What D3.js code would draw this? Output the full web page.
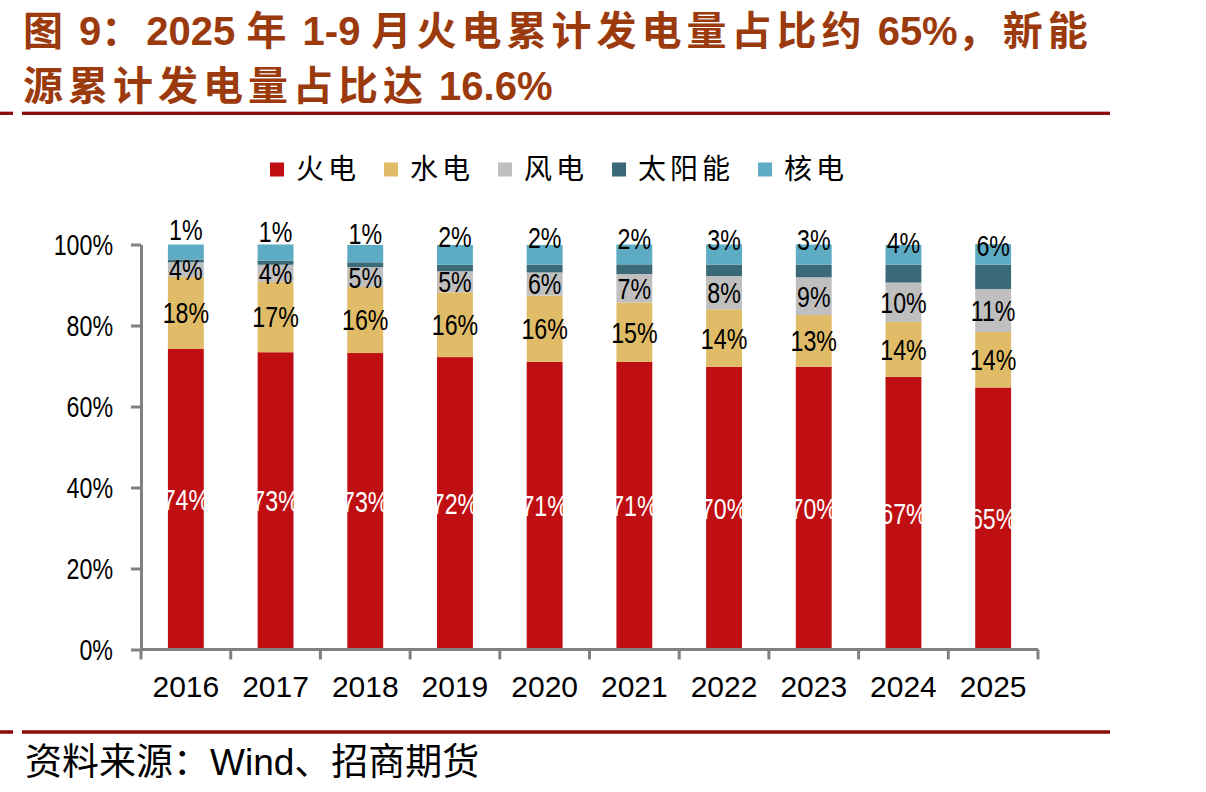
<!DOCTYPE html>
<html>
<head>
<meta charset="utf-8">
<script src="https://cdn.jsdelivr.net/npm/d3@7"></script>
<style>
  body { margin: 0; background: #fff; }
  text { font-family: "Liberation Sans", Arial, "Noto Sans CJK SC", sans-serif; }
</style>
</head>
<body>
<div id="chart"></div>
<script>
// data (share of generation, %)
const years = ['2016', '2017', '2018', '2019', '2020', '2021', '2022', '2023', '2024', '2025'];
const seriesNames = ['火电', '水电', '风电', '太阳能', '核电'];
const thermal = [74.2, 73.4, 73.2, 72.2, 71.0, 71.0, 69.8, 69.8, 67.3, 64.7];
const hydro   = [17.8, 17.4, 16.3, 16.0, 16.4, 14.7, 14.2, 12.8, 13.6, 13.7];
const wind    = [3.6, 4.2, 4.9, 5.2, 5.7, 7.0, 8.2, 9.3, 9.7, 10.6];
const solar   = [0.7, 1.0, 1.2, 1.6, 1.9, 2.4, 2.8, 3.1, 4.4, 6.0];
const nuclear = [3.7, 4.0, 4.3, 4.9, 4.9, 4.9, 5.0, 5.0, 4.9, 5.1];
const yTicks = [0, 20, 40, 60, 80, 100];
const titleLines = ['图 9：2025 年 1-9 月火电累计发电量占比约 65%，新能', '源累计发电量占比达 16.6%'];
const sourceText = '资料来源：Wind、招商期货';

const colors = ['#C00F12', '#E0BC69', '#BFBFBF', '#3B6978', '#5EABC4'];
const lineRed = '#8B0A0A';
const axisGrey = '#808080';

const svg = d3.select('#chart').append('svg')
  .attr('width', 1206)
  .attr('height', 792);

// title, CJK runs get extra letter spacing
const cjkRe = /[\u3000-\u9fff\uff00-\uffef]+|[^\u3000-\u9fff\uff00-\uffef]+/g;
titleLines.forEach((line, i) => {
  const t = svg.append('text')
    .attr('x', 23)
    .attr('y', 45 + i * 55)
    .attr('fill', '#9B3A0D')
    .attr('font-size', 40)
    .attr('font-weight', 'bold');
  line.match(cjkRe).forEach(run => {
    const isCjk = /[\u3000-\u9fff\uff00-\uffef]/.test(run);
    t.append('tspan')
      .attr('letter-spacing', isCjk ? 5 : 0)
      .style('font-family', isCjk ? '"Noto Sans CJK SC", sans-serif' : '"Liberation Sans", Arial, sans-serif')
      .text(run);
  });
});

// red rule lines
function rule(yPos, h) {
  svg.append('rect').attr('x', 0).attr('y', yPos - h / 2).attr('width', 13).attr('height', h).attr('fill', lineRed);
  svg.append('rect').attr('x', 22).attr('y', yPos - h / 2).attr('width', 1088).attr('height', h).attr('fill', lineRed);
}
rule(113.3, 3.3);
rule(732, 3.5);

// source
svg.append('text')
  .attr('x', 25)
  .attr('y', 775)
  .attr('font-size', 37)
  .attr('fill', '#000')
  .style('font-family', '"Liberation Sans", Arial, "Noto Sans CJK SC", sans-serif')
  .text(sourceText);

// scales
const x = d3.scaleBand()
  .domain(years)
  .range([141, 1038])
  .paddingInner(0.6)
  .paddingOuter(0.3);

const y = d3.scaleLinear()
  .domain([0, 100])
  .range([649.5, 244.5]);

const rows = years.map((yr, i) => ({
  year: yr,
  '火电': thermal[i],
  '水电': hydro[i],
  '风电': wind[i],
  '太阳能': solar[i],
  '核电': nuclear[i]
}));

const stacked = d3.stack().keys(seriesNames)(rows);

// bars
const layers = svg.append('g').selectAll('g')
  .data(stacked)
  .join('g')
  .attr('fill', (d, i) => colors[i]);

layers.selectAll('rect')
  .data(d => d)
  .join('rect')
  .attr('x', d => x(d.data.year))
  .attr('y', d => y(d[1]))
  .attr('width', x.bandwidth())
  .attr('height', d => y(d[0]) - y(d[1]));

// segment labels (thermal, hydro, wind inside; solar above bar)
const labelScale = 0.8;
stacked.forEach((layer, li) => {
  if (li > 3) return;
  svg.append('g').selectAll('text')
    .data(layer)
    .join('text')
    .attr('transform', d => {
      const cx = x(d.data.year) + x.bandwidth() / 2;
      let cy = (y(d[0]) + y(d[1])) / 2;
      if (li === 3) cy -= 31;
      return `translate(${cx},${cy}) scale(${labelScale},1)`;
    })
    .attr('text-anchor', 'middle')
    .attr('dy', '0.36em')
    .attr('font-size', 29)
    .attr('fill', li === 0 ? '#fff' : '#000')
    .text(d => Math.round(d[1] - d[0]) + '%');
});

// y axis
const yAxis = svg.append('g')
  .attr('transform', 'translate(141,0)')
  .call(d3.axisLeft(y).tickValues(yTicks).tickSize(10).tickSizeOuter(0).tickFormat(d => d + '%'));
yAxis.select('.domain').attr('stroke', axisGrey).attr('stroke-width', 3);
yAxis.selectAll('.tick line').attr('stroke', axisGrey).attr('stroke-width', 3);
yAxis.selectAll('.tick text')
  .attr('x', -28 / labelScale)
  .attr('transform', `scale(${labelScale},1)`)
  .attr('dy', '0.36em')
  .attr('font-size', 29)
  .attr('fill', '#000')
  .style('font-family', '"Liberation Sans", Arial, sans-serif');

// x axis: line with ticks at category boundaries
const step = x.step();
const xAxis = svg.append('g');
xAxis.append('line')
  .attr('x1', 141).attr('x2', 1038)
  .attr('y1', y(0)).attr('y2', y(0))
  .attr('stroke', axisGrey).attr('stroke-width', 3);
const bounds = years.map(d => x(d) - x.paddingInner() * step / 2)
  .concat([x(years[years.length - 1]) + x.bandwidth() + x.paddingOuter() * step]);
xAxis.selectAll('.xtick')
  .data(bounds)
  .join('line')
  .attr('class', 'xtick')
  .attr('x1', d => d).attr('x2', d => d)
  .attr('y1', y(0)).attr('y2', y(0) + 10)
  .attr('stroke', axisGrey).attr('stroke-width', 3);
xAxis.selectAll('.xlabel')
  .data(years)
  .join('text')
  .attr('class', 'xlabel')
  .attr('x', d => x(d) + x.bandwidth() / 2)
  .attr('y', 697)
  .attr('text-anchor', 'middle')
  .attr('font-size', 30)
  .attr('fill', '#000')
  .text(d => d);

// legend
const legend = svg.append('g').attr('transform', 'translate(270,169.5)');
let lx = 0;
seriesNames.forEach((name, i) => {
  legend.append('rect')
    .attr('x', lx).attr('y', -7)
    .attr('width', 14).attr('height', 14)
    .attr('fill', colors[i]);
  const t = legend.append('text')
    .attr('x', lx + 26)
    .attr('dy', '0.35em')
    .attr('font-size', 28)
    .attr('letter-spacing', 4)
    .style('font-family', '"Noto Sans CJK SC", sans-serif')
    .attr('fill', '#000')
    .text(name);
  lx += 26 + t.node().getComputedTextLength() + 24;
});
</script>
</body>
</html>
